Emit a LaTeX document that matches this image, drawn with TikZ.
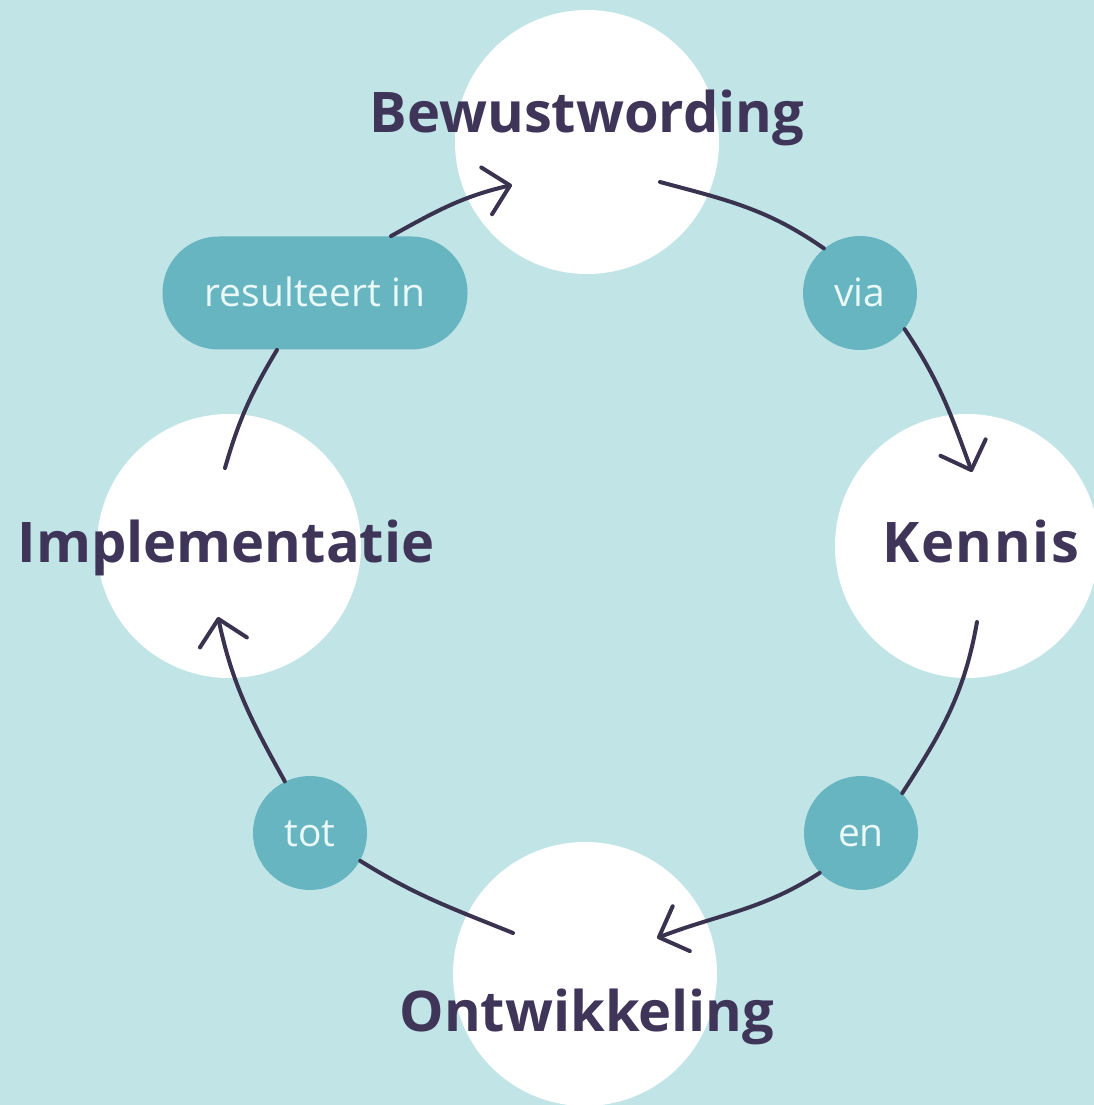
\documentclass[tikz,border=0pt]{standalone}
\usepackage{fontspec}
\setmainfont{Open Sans}
\usetikzlibrary{arrows.meta}
\definecolor{bgc}{HTML}{C1E4E7}
\definecolor{tealc}{HTML}{66B5C0}
\definecolor{linec}{HTML}{3A3350}
\definecolor{headc}{HTML}{3E3558}
\definecolor{smallc}{HTML}{EAF8F8}
\tikzset{
  bigcirc/.style={circle, fill=white, minimum size=132pt, inner sep=0pt},
  smallcirc/.style={circle, fill=tealc, minimum size=57pt, inner sep=0pt,
    text=smallc, font=\fontsize{19.5}{21}\selectfont, text height=13.5pt, text depth=0pt},
  pillbox/.style={rectangle, rounded corners=28pt, fill=tealc, minimum width=152.5pt,
    minimum height=56.5pt, inner sep=0pt, text=smallc,
    font=\fontsize{19.5}{21}\selectfont, text height=13.5pt, text depth=0pt},
  headtext/.style={anchor=base, text=headc, font=\fontsize{28}{30}\selectfont\bfseries, inner sep=0pt},
  conn/.style={draw=linec, line width=2pt, line cap=round},
  arr/.style={conn, -{Straight Barb[length=12pt,width=24pt,round]}}
}
\begin{document}
\begin{tikzpicture}[x=0.5pt,y=0.5pt]
\useasboundingbox (0,0) rectangle (1094,1105);
\fill[bgc] (0,0) rectangle (1094,1105);
% white circles
\node[bigcirc] (top) at (587,963) {};
\node[bigcirc] (right) at (967,559) {};
\node[bigcirc] (bottom) at (585,131) {};
\node[bigcirc] (left) at (229,559) {};
% headings
\node[headtext] (tBew) at (587,972) {Bewustwording};
\node[headtext] (tKen) at (981,542) {\addfontfeatures{LetterSpace=3}Kennis};
\node[headtext] (tOnt) at (587,73) {Ontwikkeling};
\node[headtext] (tImp) at (226,542) {Implementatie};
% small connector labels
\node[smallcirc] (via) at (860,812) {via};
\node[smallcirc] (en) at (861,272) {en};
\node[smallcirc] (tot) at (310,272) {tot};
\node[pillbox] (box) at (315,812) {resulteert in};
% free ends
\coordinate (a1) at (660,923);
\coordinate (tip1) at (972,633);
\coordinate (k1) at (977,483);
\coordinate (tip2) at (657,167);
\coordinate (b1) at (513,172);
\coordinate (tip3) at (218,488);
\coordinate (i1) at (225,637);
\coordinate (tip4) at (512,920);
% connectors
\draw[conn] (a1) to[out=-15,in=145] (via.129);
\draw[arr] (via.-39) to[out=-56,in=110] (tip1);
\draw[conn] (k1) to[out=-100,in=57] (en.44);
\draw[arr] (en.-136) to[out=-147,in=21] (tip2);
\draw[conn] (b1) to[out=158,in=-32] (tot.-29);
\draw[arr] (tot.116) to[out=119,in=-78] (tip3);
\draw[conn] (i1) to[out=74,in=-121] ([xshift=-19pt]box.south);
\draw[arr] ([xshift=38pt]box.north) to[out=29,in=193] (tip4);
\end{tikzpicture}
\end{document}
